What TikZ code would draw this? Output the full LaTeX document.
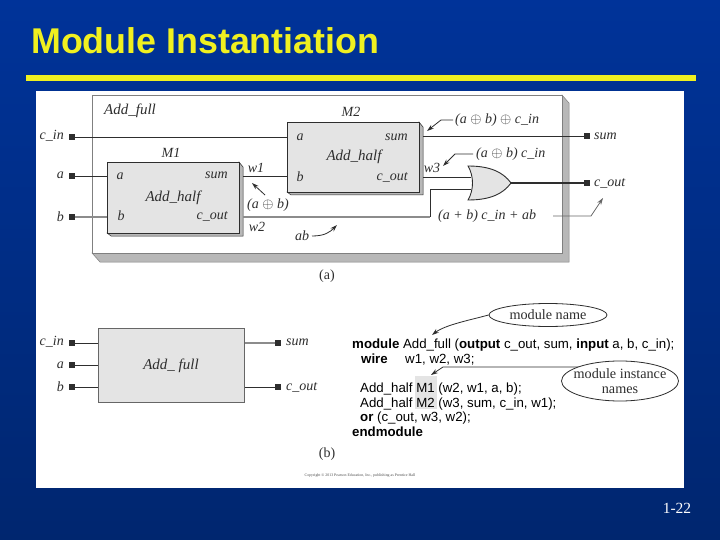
\documentclass[tikz,border=0pt]{standalone}
\usepackage{fontspec}
\setmainfont{Liberation Serif}
\setsansfont{Liberation Sans}
\usetikzlibrary{arrows.meta,shapes.geometric}
\definecolor{bgtop}{HTML}{003399}
\definecolor{bgmid}{HTML}{002E88}
\definecolor{bgbot}{HTML}{00266F}
\definecolor{ttl}{HTML}{F0F020}
\definecolor{ink}{HTML}{2E2E2E}
\definecolor{bev}{HTML}{B8B8B8}
\definecolor{face}{HTML}{E4E4E4}
\tikzset{
  lab/.style={font=\fontsize{14}{16}\selectfont\itshape,text=ink,inner sep=0pt},
  labw/.style={font=\fontsize{15}{17}\selectfont\itshape,text=ink,inner sep=0pt},
  labr/.style={font=\fontsize{14}{16}\selectfont,text=ink,inner sep=0pt},
  code/.style={font=\sffamily\fontsize{13.27}{15}\selectfont,text=black,inner sep=0pt,anchor=base west},
  pinbox/.style={fill=ink,draw=none,minimum size=5.5pt,inner sep=0pt},
  wirel/.style={draw=ink,line width=0.9pt},
  wireg/.style={draw=black!45,line width=1.1pt},
  anno/.style={draw=ink,line width=0.8pt,-{Stealth[length=7pt,width=4.5pt]}},
  block/.style={draw=ink,fill=face,line width=0.9pt,inner sep=0pt,anchor=north west},
  bevel/.style={draw=ink,fill=bev,line width=0.5pt},
  oval/.style={draw=ink,fill=white,ellipse,line width=0.8pt,inner xsep=-12pt,inner ysep=-4pt,align=center,font=\fontsize{14.2}{15}\selectfont,text=ink},
}
\begin{document}
\begin{tikzpicture}[x=1pt,y=-1pt]
\useasboundingbox (0,0) rectangle (720,540);
\shade[top color=bgtop,middle color=bgmid,bottom color=bgbot,draw=none] (0,0) rectangle (720,540);
\node[anchor=west,inner sep=0pt,text=ttl,font=\sffamily\bfseries\fontsize{35.8}{38}\selectfont] (title) at (31,41) {Module Instantiation};
\fill[ttl] (26,75) rectangle (696,81);
\fill[white] (36,91) rectangle (684,488);
% outer module (a)
\filldraw[bevel,draw=black!50] (562,95) -- (569,103) -- (569,262) -- (100,262) -- (92,253) -- (562,253) -- cycle;
\node[draw=black!50,line width=1pt,fill=white,inner sep=0pt,anchor=north west,minimum width=470pt,minimum height=158pt] (full) at (92,95) {};
\node[labw,anchor=west] (lfull) at (104,111) {Add\_full};
% M1
\filldraw[bevel] (239,162) -- (243,167) -- (243,236) -- (111,236) -- (107,233) -- cycle;
\node[block,minimum width=132pt,minimum height=71pt] (m1) at (107,162) {};
\node[lab] (m1n) at (171,153) {M1};
\node[lab] (m1a) at (120,176) {a};
\node[lab] (m1b) at (121,216) {b};
\node[lab,anchor=east] (m1s) at (228,175) {sum};
\node[lab,anchor=east] (m1c) at (228,216) {c\_out};
\node[labw] (m1h) at (173,198) {Add\_half};
% M2
\filldraw[bevel] (419,122) -- (423,127) -- (423,195) -- (291,195) -- (287,192) -- cycle;
\node[block,minimum width=132pt,minimum height=70pt] (m2) at (287,122) {};
\node[lab] (m2n) at (351,112) {M2};
\node[lab] (m2a) at (300,137) {a};
\node[lab] (m2b) at (300,177) {b};
\node[lab,anchor=east] (m2s) at (408,137) {sum};
\node[lab,anchor=east] (m2c) at (408,177) {c\_out};
\node[labw] (m2h) at (354,157) {Add\_half};
% pins (a)
\node[pinbox] (pc) at (72,137) {};
\node[pinbox] (pa) at (72,176) {};
\node[pinbox] (pb) at (72,217) {};
\node[pinbox] (ps) at (587,136) {};
\node[pinbox] (po) at (587,183) {};
\node[lab,anchor=east] (lc) at (64,136) {c\_in};
\node[lab,anchor=east] (la) at (64,175) {a};
\node[lab,anchor=east] (lb) at (64,217) {b};
\node[lab,anchor=west] (ls) at (594,136) {sum};
\node[lab,anchor=west] (lo) at (594,183) {c\_out};
% OR gate
\coordinate (orw) at (471,177);
\coordinate (orv) at (471,189);
\coordinate (orout) at (511,183);
\coordinate (m1so) at (243,176);
\coordinate (m2bi) at (287,176);
\coordinate (m1co) at (243,217);
\coordinate (m2so) at (423,136);
\coordinate (m2co) at (423,177);
\coordinate (w2b) at (430,217);
\coordinate (w2t) at (430,189);
% wires (a)
\draw[wirel] (pc) -- (pc -| m2.west);
\draw[wirel] (pa) -- (pa -| m1.west);
\draw[wireg] (pb) -- (pb -| m1.west);
\draw[wirel] (m1so) -- (m2bi);
\draw[wireg] (m1co) -- (w2b);
\draw[wirel] (w2b) -- (w2t) -- (orv);
\draw[wirel] (m2so) -- (ps);
\draw[wirel] (m2co) -- (orw);
\draw[draw=ink,line width=1.5pt] (orout) -- (po);
\filldraw[draw=ink,fill=face,line width=0.9pt] (468,166) .. controls (490,166) and (503,172) .. (orout) .. controls (503,194) and (490,200) .. (468,200) .. controls (474,190) and (474,176) .. (468,166) -- cycle;
% annotations (a)
\node[lab] (w1) at (256,168) {w1};
\node[lab] (w2) at (257,227) {w2};
\node[lab] (w3) at (432,168) {w3};
\node[lab] (xab) at (268,205) {(a $\oplus$ b)};
\coordinate (w1s) at (265,195);
\coordinate (w1t) at (252,183);
\draw[anno] (w1s) -- (w1t);
\node[lab] (ab) at (302,236) {ab};
\coordinate (abs) at (312,236);
\coordinate (abt) at (337,225);
\draw[anno] (abs) .. controls (325,236) and (330,232) .. (abt);
\node[lab,anchor=west] (xs) at (455,120) {(a $\oplus$ b) $\oplus$ c\_in};
\coordinate (xst) at (427,131);
\draw[anno] (xs.west) ++(-2,0) -- ++(-12,0) -- (xst);
\node[lab,anchor=west] (xc) at (476,154) {(a $\oplus$ b) c\_in};
\coordinate (xct) at (443,166);
\draw[anno] (xc.west) ++(-3,0) -- ++(-18,0) -- (xct);
\node[lab,anchor=west] (xo) at (438,216) {(a + b) c\_in + ab};
\coordinate (xo1) at (553,216);
\coordinate (xo2) at (591,216);
\coordinate (xot) at (603,198);
\draw[anno,draw=black!60] (xo1) -- (xo2) -- (xot);
\node[labr] (capa) at (327,276) {(a)};
% (b)
\node[draw=black!60,fill=face,line width=1pt,inner sep=0pt,anchor=north west,minimum width=146pt,minimum height=74pt] (fb) at (98,328) {};
\node[labw] (fbn) at (171,366) {Add\_ full};
\node[pinbox] (qc) at (72,343) {};
\node[pinbox] (qa) at (72,365) {};
\node[pinbox] (qb) at (72,387) {};
\node[pinbox] (qs) at (278,343) {};
\node[pinbox] (qo) at (278,387) {};
\node[lab,anchor=east] (mc) at (64,342) {c\_in};
\node[lab,anchor=east] (ma) at (64,365) {a};
\node[lab,anchor=east] (mb) at (64,387) {b};
\node[lab,anchor=west] (ms) at (286,342) {sum};
\node[lab,anchor=west] (mo) at (286,387) {c\_out};
\draw[wirel] (qc) -- (qc -| fb.west);
\draw[wirel] (qa) -- (qa -| fb.west);
\draw[wirel] (qb) -- (qb -| fb.west);
\draw[wireg] (qs) -- (qs -| fb.east);
\draw[wirel] (qo) -- (qo -| fb.east);
\node[labr] (capb) at (327,454) {(b)};
% code
\fill[face] (415,376) rectangle (437,409);
\node[code] (c1) at (352,348.5) {\textbf{module} Add\_full (\textbf{output} c\_out, sum, \textbf{input} a, b, c\_in);};
\node[code] (c2a) at (361,363) {\textbf{wire}};
\node[code] (c2b) at (405,363) {w1, w2, w3;};
\node[code] (c3) at (360,392.5) {Add\_half M1 (w2, w1, a, b);};
\node[code] (c4) at (360,407) {Add\_half M2 (w3, sum, c\_in, w1);};
\node[code] (c5) at (360,421.5) {\textbf{or} (c\_out, w3, w2);};
\node[code] (c6) at (352,436) {\textbf{endmodule}};
\coordinate (e2s) at (585,367);
\coordinate (e2k) at (443,367);
\coordinate (e2t) at (431,375);
\coordinate (e1t) at (432,335);
\draw[anno] (e2s) -- (e2k) -- (e2t);
\node[oval,minimum width=118pt,minimum height=23pt] (e1) at (548,315) {module name};
\node[oval,minimum width=117pt,minimum height=40pt] (e2) at (620,381) {module instance\\names};
\draw[anno] (e1.west) .. controls (470,320) and (445,325) .. (e1t);
\node[inner sep=0pt,text=black!70,font=\fontsize{3.9}{4}\selectfont] (copy) at (360,476) {Copyright © 2013 Pearson Education, Inc., publishing as Prentice Hall};
\node[inner sep=0pt,text=white,font=\fontsize{15.5}{18}\selectfont] (pg) at (677,508) {1-22};
\end{tikzpicture}
\end{document}
